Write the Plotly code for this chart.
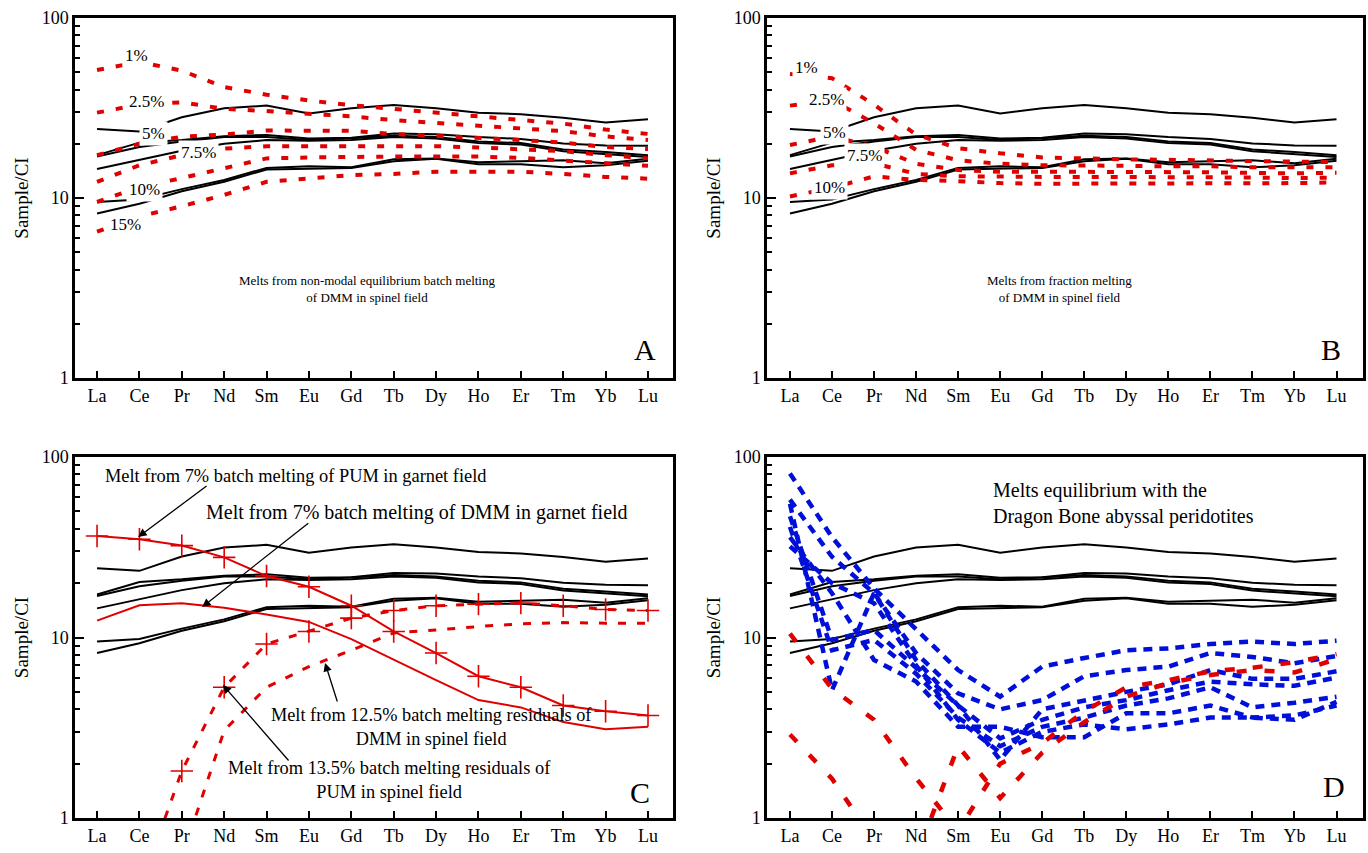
import plotly.graph_objects as go

REE = ["La", "Ce", "Pr", "Nd", "Sm", "Eu", "Gd", "Tb", "Dy", "Ho", "Er", "Tm", "Yb", "Lu"]

# Black sample patterns (shown in every panel)
sample_1 = [24.2, 23.4, 28.1, 31.5, 32.6, 29.5, 31.5, 32.9, 31.5, 29.8, 29.2, 27.9, 26.3, 27.4]
sample_2 = [17.3, 20.3, 21.0, 22.0, 22.4, 21.4, 21.6, 22.8, 22.6, 21.8, 21.3, 20.1, 19.6, 19.5]
sample_3 = [17.0, 19.2, 20.6, 21.8, 21.8, 21.0, 21.5, 22.2, 21.8, 20.6, 20.2, 18.6, 18.0, 17.3]
sample_4 = [14.5, 16.3, 18.3, 20.0, 21.0, 20.8, 21.0, 21.8, 21.4, 20.2, 19.8, 18.2, 17.5, 16.9]
sample_5 = [9.5, 9.8, 11.2, 12.6, 14.7, 15.0, 14.8, 16.4, 16.6, 15.8, 16.0, 16.2, 15.6, 16.5]
sample_6 = [8.2, 9.3, 10.9, 12.3, 14.4, 14.6, 14.7, 16.0, 16.5, 15.4, 15.4, 14.8, 15.2, 16.1]
samples = [sample_1, sample_2, sample_3, sample_4, sample_5, sample_6]

# Panel A: non-modal batch melting of DMM (spinel field)
batch_1 = [51.4, 57.0, 51.0, 41.3, 37.5, 34.8, 32.8, 31.2, 29.7, 28.4, 27.1, 25.9, 24.0, 22.7]
batch_2_5 = [29.8, 33.0, 34.0, 31.3, 30.4, 29.4, 28.4, 27.1, 26.2, 25.4, 24.6, 23.5, 22.0, 21.0]
batch_5 = [17.3, 20.0, 21.9, 22.5, 23.7, 23.7, 23.6, 22.7, 22.1, 21.7, 21.0, 20.3, 19.2, 18.7]
batch_7_5 = [12.3, 15.2, 17.3, 18.8, 19.4, 19.4, 19.4, 19.5, 19.4, 19.1, 18.7, 18.2, 17.3, 16.6]
batch_10 = [9.5, 11.5, 12.9, 14.6, 16.6, 16.8, 17.0, 17.0, 17.0, 17.0, 16.7, 16.2, 15.6, 15.1]
batch_15 = [6.5, 7.9, 9.0, 10.4, 12.3, 12.9, 13.4, 13.6, 14.0, 14.0, 14.0, 13.6, 13.1, 12.8]
batch_melts = [batch_1, batch_2_5, batch_5, batch_7_5, batch_10, batch_15]

# Panel B: fractional melting of DMM (spinel field)
frac_1 = [48.9, 46.3, 33.0, 22.5, 18.9, 17.7, 16.8, 16.5, 16.4, 16.3, 16.2, 16.0, 15.9, 15.8]
frac_2_5 = [32.6, 35.0, 26.0, 18.5, 16.2, 15.5, 15.2, 15.2, 15.1, 15.0, 15.0, 14.8, 14.8, 14.8]
frac_5 = [19.7, 22.0, 19.3, 15.5, 14.3, 14.0, 14.0, 14.0, 14.0, 13.9, 13.9, 13.8, 13.7, 13.8]
frac_7_5 = [13.7, 15.2, 15.6, 13.6, 13.2, 13.1, 13.1, 13.1, 13.1, 13.0, 13.0, 13.0, 12.9, 13.0]
frac_10 = [10.2, 11.4, 13.2, 12.6, 12.4, 12.1, 12.0, 12.0, 12.0, 12.0, 12.0, 12.0, 12.1, 12.2]
frac_melts = [frac_1, frac_2_5, frac_5, frac_7_5, frac_10]

# Panel C
pum_garnet_7 = [36.5, 35.0, 32.3, 27.8, 21.9, 19.1, 15.0, 10.8, 8.2, 6.1, 5.3, 4.2, 3.9, 3.7]
dmm_garnet_7 = [12.4, 15.1, 15.5, 14.6, 13.4, 12.2, 9.8, 7.5, 5.8, 4.5, 4.1, 3.4, 3.1, 3.2]
pum_resid_13_5 = [0.08, 0.4, 1.82, 5.3, 9.2, 10.8, 12.8, 14.1, 15.0, 15.3, 15.5, 15.0, 14.3, 14.1]
dmm_resid_12_5 = [0.1, 0.25, 0.6, 3.05, 5.3, 6.9, 8.5, 10.6, 11.0, 11.5, 11.9, 12.1, 12.0, 12.0]

# Panel D: melts in equilibrium with Dragon Bone abyssal peridotites
blue_1 = [81, 36, 18.7, 11.0, 6.6, 4.7, 6.9, 7.7, 8.5, 8.7, 9.2, 9.5, 9.2, 9.6]
blue_2 = [58, 28, 17.6, 8.2, 4.9, 4.0, 4.5, 6.1, 6.6, 6.9, 8.2, 7.8, 7.2, 7.9]
blue_3 = [55, 5.1, 17.6, 7.5, 4.2, 2.1, 4.0, 4.5, 5.0, 5.5, 6.6, 5.9, 5.9, 6.5]
blue_4 = [47, 9.7, 11.0, 6.8, 4.2, 2.76, 3.5, 4.1, 4.5, 5.1, 5.7, 5.5, 5.4, 6.0]
blue_5 = [41, 8.5, 9.7, 6.3, 3.6, 2.5, 3.2, 3.6, 4.2, 4.6, 5.3, 4.1, 4.35, 4.7]
blue_6 = [36, 17.6, 7.5, 5.7, 3.2, 3.2, 2.8, 2.8, 3.8, 3.8, 4.2, 3.6, 3.7, 4.2]
blue_7 = [32, 20.0, 15.5, 7.0, 3.5, 2.3, 3.0, 3.3, 3.1, 3.3, 3.6, 3.6, 3.5, 4.4]
blue_lines = [blue_1, blue_2, blue_3, blue_4, blue_5, blue_6, blue_7]
red_d1 = [10.5, 5.2, 3.5, 1.66, 0.85, 2.0, 2.6, 3.9, 5.3, 5.8, 6.5, 6.8, 7.3, 8.1]
red_d2 = [2.9, 1.65, 0.75, 0.6, 2.5, 1.29, 2.3, 3.4, 4.7, 5.6, 6.2, 6.6, 6.4, 7.6]
red_lines_d = [red_d1, red_d2]

FONT = "Liberation Serif, Times New Roman, serif"
RED = "#e00000"
BLUE = "#0010d8"

fig = go.Figure()


def axn(i):
    return ("x" if i == 1 else f"x{i}", "y" if i == 1 else f"y{i}")


def add_line(panel, yvals, color, width, dash="solid", marker=False):
    xa, ya = axn(panel)
    kw = dict(mode="lines")
    if marker:
        kw = dict(mode="lines+markers",
                  marker=dict(symbol="cross-thin", size=16, line=dict(color=color, width=1.6)))
    fig.add_trace(go.Scatter(x=REE, y=yvals, xaxis=xa, yaxis=ya,
                             line=dict(color=color, width=width, dash=dash),
                             showlegend=False, hoverinfo="skip", **kw))


for p in (1, 2, 3, 4):
    for s in samples:
        add_line(p, s, "black", 2)

for s in batch_melts:
    add_line(1, s, RED, 4, "7px,12px")
for s in frac_melts:
    add_line(2, s, RED, 4, "7px,12px")

add_line(3, pum_garnet_7, RED, 2, "solid", marker=True)
add_line(3, dmm_garnet_7, RED, 2)
add_line(3, pum_resid_13_5, RED, 3, "8px,11px", marker=True)
add_line(3, dmm_resid_12_5, RED, 3, "8px,11px")

for s in blue_lines:
    add_line(4, s, BLUE, 4.5, "9px,7px")
for s in red_lines_d:
    add_line(4, s, RED, 4.5, "10px,18px")

W, H = 1368, 853
xdom_l = [75 / W, 673 / W]
xdom_r = [767 / W, 1363 / W]
ydom_t = [1 - 378 / H, 1 - 18 / H]
ydom_b = [1 - 818 / H, 1 - 457 / H]

layout = dict(width=W, height=H, margin=dict(l=0, r=0, t=0, b=0),
              paper_bgcolor="white", plot_bgcolor="white",
              font=dict(family=FONT, color="black", size=18))

minor_vals = [v * m for m in (1, 10) for v in range(2, 10)]
panels = {1: (xdom_l, ydom_t, [-0.52, 13.59]), 2: (xdom_r, ydom_t, [-0.546, 13.63]),
          3: (xdom_l, ydom_b, [-0.52, 13.59]), 4: (xdom_r, ydom_b, [-0.546, 13.63])}
for i, (xd, yd, xr) in panels.items():
    xk = "xaxis" if i == 1 else f"xaxis{i}"
    yk = "yaxis" if i == 1 else f"yaxis{i}"
    xa, ya = axn(i)
    layout[xk] = dict(domain=xd, anchor=ya, type="category", range=xr,
                      showline=True, linecolor="black", linewidth=2.5, mirror=True,
                      ticks="inside", ticklen=7, tickwidth=2, tickcolor="black",
                      showgrid=False, zeroline=False, automargin=False,
                      tickfont=dict(family=FONT, size=18, color="black"))
    layout[yk] = dict(domain=yd, anchor=xa, type="log", range=[0, 2],
                      showline=True, linecolor="black", linewidth=2.5, mirror=True,
                      ticks="inside", ticklen=9, tickwidth=2, tickcolor="black",
                      tickvals=[1, 10, 100], ticktext=["1", "10", "100"],
                      minor=dict(tickvals=minor_vals, ticks="inside", ticklen=5,
                                 tickwidth=2, tickcolor="black", showgrid=False),
                      showgrid=False, zeroline=False, automargin=False,
                      tickfont=dict(family=FONT, size=18, color="black"),
                      title=dict(text="Sample/CI", font=dict(family=FONT, size=19), standoff=9))
fig.update_layout(**layout)

ann = []


def txt(panel, x, y, text, size=17, bg=None, xanchor="center", align="center"):
    xa, ya = axn(panel)
    d = dict(xref=xa, yref=ya, x=x, y=y, text=text, showarrow=False,
             font=dict(family=FONT, size=size, color="black"),
             xanchor=xanchor, yanchor="middle", align=align)
    if bg:
        d.update(bgcolor=bg, borderpad=2)
    ann.append(d)


def arrow(panel, hx, hy, tx, ty):
    xa, ya = axn(panel)
    ann.append(dict(xref=xa, yref=ya, axref=xa, ayref=ya, x=hx, y=hy, ax=tx, ay=ty,
                    text="", showarrow=True, arrowhead=2, arrowsize=1.3,
                    arrowwidth=1.3, arrowcolor="black"))


# Panel A labels
for (x, y, t) in [(0.94, 1.794, "1%"), (1.17, 1.535, "2.5%"), (1.33, 1.356, "5%"),
                  (2.39, 1.252, "7.5%"), (1.13, 1.05, "10%"), (0.66, 0.854, "15%")]:
    txt(1, x, y, t, 17, bg="white")
txt(1, 6.37, 0.492, "Melts from non-modal equilibrium batch melting<br>of DMM in spinel field", 13)
txt(1, 12.92, 0.156, "A", 30)

# Panel B labels
for (x, y, t) in [(0.40, 1.726, "1%"), (0.87, 1.548, "2.5%"), (1.07, 1.363, "5%"),
                  (1.78, 1.235, "7.5%"), (0.95, 1.057, "10%")]:
    txt(2, x, y, t, 17, bg="white")
txt(2, 6.41, 0.492, "Melts from fraction melting<br>of DMM in spinel field", 13)
txt(2, 12.88, 0.156, "B", 30)

# Panel C labels
txt(3, 4.69, 1.895, "Melt from 7% batch melting of PUM in garnet field", 18.4)
txt(3, 7.55, 1.695, "Melt from 7% batch melting of DMM in garnet field", 20)
txt(3, 7.9, 0.504, "Melt from 12.5% batch melting residuals of<br>DMM in spinel field", 18.3)
txt(3, 6.91, 0.213, "Melt from 13.5% batch melting residuals of<br>PUM in spinel field", 18.4)
arrow(3, 0.97, 1.557, 2.62, 1.845)
arrow(3, 2.48, 1.169, 5.02, 1.64)
arrow(3, 5.38, 0.859, 5.68, 0.637)
arrow(3, 2.97, 0.737, 4.55, 0.310)
txt(3, 12.8, 0.139, "C", 30)

# Panel D labels
txt(4, 4.79, 1.74, "Melts equilibrium with the<br>Dragon Bone abyssal peridotites", 20,
    xanchor="left", align="left")
txt(4, 12.95, 0.172, "D", 30)

fig.update_layout(annotations=ann)

fig.write_html("out.html", config={"displayModeBar": False},
               post_script="document.body.style.margin='0px';")
